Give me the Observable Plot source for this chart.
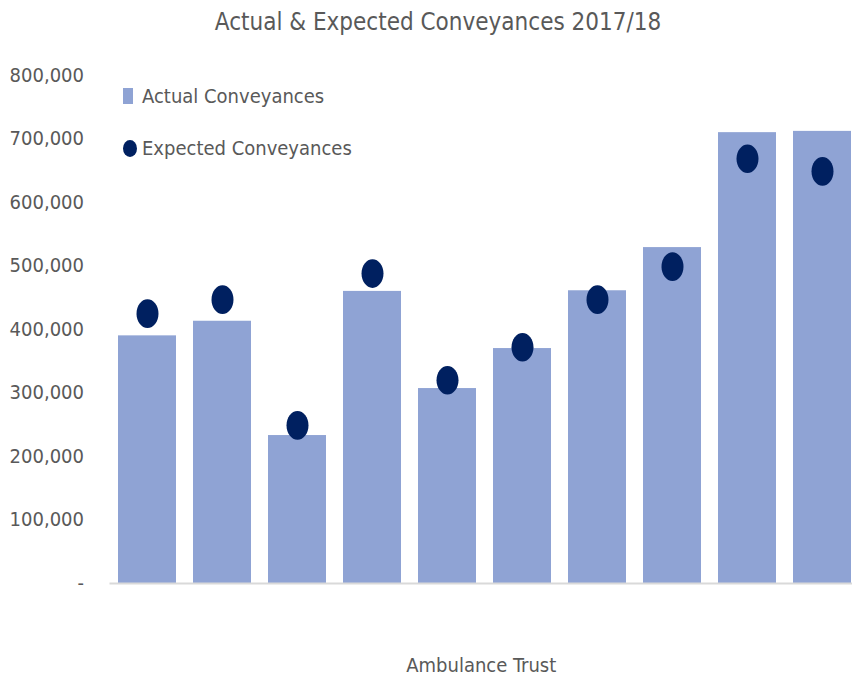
<!DOCTYPE html>
<html>
<head>
<meta charset="utf-8">
<script src="https://cdn.jsdelivr.net/npm/d3@7"></script>
<script src="https://cdn.jsdelivr.net/npm/@observablehq/plot@0.6"></script>
<style>
  html, body { margin: 0; padding: 0; background: #fff; }
  body { width: 852px; height: 677px; overflow: hidden; position: relative;
         font-family: "DejaVu Sans Condensed", "Liberation Sans Narrow", sans-serif; color: #595959; }
  #title { height: 45px; line-height: 44px; text-align: center; font-size: 24px; padding-left: 24px; }
  .legend { position: absolute; font-size: 20px; display: flex; align-items: center; }
  .sw-bar { width: 10px; height: 16px; background: #8FA3D4; margin-right: 9px; }
  .sw-dot { width: 14px; height: 17px; border-radius: 50%; background: #002060; margin-right: 5px; }
</style>
</head>
<body>
<div id="title">Actual &amp; Expected Conveyances 2017/18</div>
<div id="chart"></div>
<div class="legend" style="top:84px; left:123px"><div class="sw-bar"></div><span>Actual Conveyances</span></div>
<div class="legend" style="top:136px; left:123px"><div class="sw-dot"></div><span>Expected Conveyances</span></div>
<script>
const trusts = ["Trust 1","Trust 2","Trust 3","Trust 4","Trust 5","Trust 6","Trust 7","Trust 8","Trust 9","Trust 10"];
const actual = [390000, 413000, 233000, 460000, 307000, 370000, 461000, 529000, 710000, 712000];
const expected = [425000, 447000, 249000, 488000, 320000, 372000, 447000, 499000, 669000, 649000];
const yTicks = [0, 100000, 200000, 300000, 400000, 500000, 600000, 700000, 800000];

const data = trusts.map((t, i) => ({trust: t, actual: actual[i], expected: expected[i]}));

const ellipse = {
  draw(context, size) {
    const r = Math.sqrt(size / Math.PI);
    const rx = r, ry = r * 1.3, k = 0.5523;
    context.moveTo(rx, 0);
    context.bezierCurveTo(rx, ry * k, rx * k, ry, 0, ry);
    context.bezierCurveTo(-rx * k, ry, -rx, ry * k, -rx, 0);
    context.bezierCurveTo(-rx, -ry * k, -rx * k, -ry, 0, -ry);
    context.bezierCurveTo(rx * k, -ry, rx, -ry * k, rx, 0);
    context.closePath();
  }
};

const fmt = d => d === 0 ? "-" : d3.format(",")(d);

const chart = Plot.plot({
  width: 852,
  height: 632,
  marginTop: 30,
  marginBottom: 94,
  marginLeft: 109.5,
  marginRight: 0,
  style: {fontFamily: '"DejaVu Sans Condensed", "Liberation Sans Narrow", sans-serif', color: "#595959", background: "#fff", overflow: "visible"},
  x: {domain: trusts, range: [109.5, 859.5], paddingInner: 0.227, paddingOuter: 0.1135, axis: null},
  y: {domain: [0, 800000], axis: null},
  marks: [
    Plot.barY(data, {x: "trust", y: "actual", fill: "#8FA3D4"}),
    Plot.ruleY([0], {stroke: "#d9d9d9", strokeWidth: 2}),
    Plot.dot(data, {x: "trust", y: "expected", fill: "#002060", r: 11, symbol: ellipse}),
    Plot.axisY(yTicks, {tickSize: 0, tickPadding: 26, tickFormat: fmt, fontSize: 20, fill: "#595959"}),
    Plot.text(["Ambulance Trust"], {frameAnchor: "bottom", dy: 88, fontSize: 20, fill: "#595959"})
  ]
});
document.getElementById("chart").appendChild(chart);
</script>
</body>
</html>
